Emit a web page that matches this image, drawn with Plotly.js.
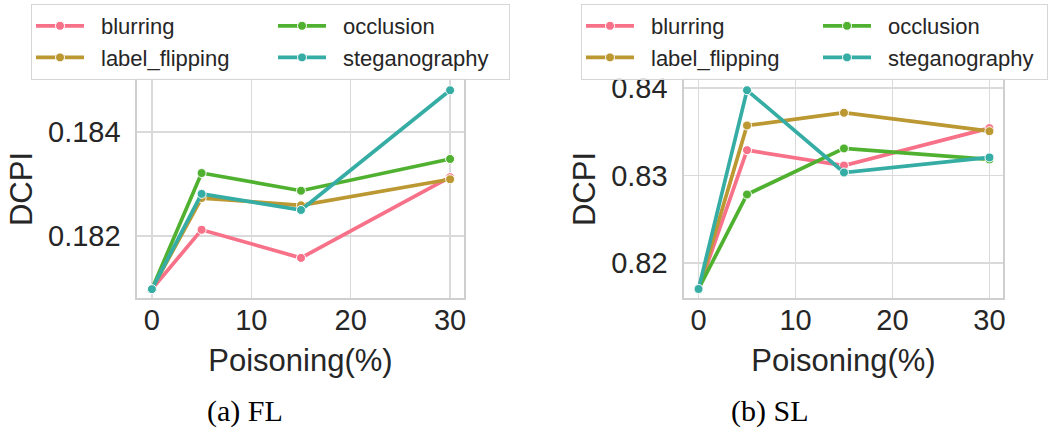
<!DOCTYPE html>
<html>
<head>
<meta charset="utf-8">
<script src="https://cdn.plot.ly/plotly-3.0.1.min.js"></script>
<style>html,body{margin:0;padding:0;background:#fff;}#chart{width:1056px;height:437px;}</style>
</head>
<body>
<div id="chart"></div>
<script>
// ---- data ----
const poisoning = [0, 5, 15, 30];
const seriesNames = ["blurring", "label_flipping", "occlusion", "steganography"];

const fl_blurring       = [0.18098, 0.18212, 0.18158, 0.18313];
const fl_label_flipping = [0.18098, 0.18273, 0.18259, 0.18309];
const fl_occlusion      = [0.18098, 0.18321, 0.18287, 0.18348];
const fl_steganography  = [0.18098, 0.18281, 0.18250, 0.18480];

const sl_blurring       = [0.81703, 0.83289, 0.83114, 0.83541];
const sl_label_flipping = [0.81703, 0.83571, 0.83717, 0.83506];
const sl_occlusion      = [0.81703, 0.82783, 0.83309, 0.83183];
const sl_steganography  = [0.81703, 0.83974, 0.83034, 0.83206];

const xTicks = [0, 10, 20, 30];
const flYTicks = [0.182, 0.184];
const flYTickText = ["0.182", "0.184"];
const slYTicks = [0.82, 0.83, 0.84];
const slYTickText = ["0.82", "0.83", "0.84"];

const captions = ["(a) FL", "(b) SL"];

// ---- styles ----
const colors = ["#f77189", "#bb9832", "#50b131", "#36ada4"];
const groups = ["g1", "g1", "g2", "g2"];
const legendWidthsFL = [167, 167, 161, 161];
const legendWidthsSL = [162, 162, 154, 154];
const textColor = "#262626";
const sansFont = "Liberation Sans, Arial, sans-serif";

const flData = [fl_blurring, fl_label_flipping, fl_occlusion, fl_steganography];
const slData = [sl_blurring, sl_label_flipping, sl_occlusion, sl_steganography];

function makeTrace(i, ys, xa, ya, legendId, lw) {
  return {
    type: "scatter",
    mode: "lines+markers",
    name: seriesNames[i],
    x: poisoning,
    y: ys,
    xaxis: xa,
    yaxis: ya,
    legend: legendId,
    legendgroup: groups[i] + legendId,
    legendwidth: lw[i],
    line: {color: colors[i], width: 3.7},
    marker: {color: colors[i], size: 9, line: {color: "#ffffff", width: 1}},
    hoverinfo: "x+y+name"
  };
}

const traces = [];
for (let i = 0; i < 4; i++) traces.push(makeTrace(i, flData[i], "x", "y", "legend", legendWidthsFL));
for (let i = 0; i < 4; i++) traces.push(makeTrace(i, slData[i], "x2", "y2", "legend2", legendWidthsSL));

const W = 1056, H = 437;
function px(v) { return v / W; }
function py(v) { return 1 - v / H; }

const axisCommon = {
  showgrid: true,
  gridcolor: "#dadada",
  gridwidth: 1.2,
  showline: true,
  linecolor: "#cfcfcf",
  linewidth: 1.6,
  mirror: true,
  zeroline: false,
  ticks: "",
  tickfont: {family: sansFont, size: 29, color: textColor},
  fixedrange: true
};

function xAxis(domain, anchor) {
  return Object.assign({}, axisCommon, {
    domain: domain,
    anchor: anchor,
    range: [-1.5, 31.4],
    tickmode: "array",
    tickvals: xTicks,
    ticktext: xTicks.map(String),
    ticklabelstandoff: -4,
    title: {text: "Poisoning(%)", font: {family: sansFont, size: 31, color: textColor}, standoff: 14}
  });
}
function yAxis(domain, anchor, range, vals, text) {
  return Object.assign({}, axisCommon, {
    domain: domain,
    anchor: anchor,
    range: range,
    tickmode: "array",
    tickvals: vals,
    ticktext: text,
    ticklabelstandoff: 9,
    title: {text: "DCPI", font: {family: sansFont, size: 31, color: textColor}, standoff: 6}
  });
}

const yDomain = [py(298), py(80)];

const legendCommon = {
  orientation: "h",
  traceorder: "grouped",
  tracegroupgap: 0,
  bgcolor: "rgba(255,255,255,0.85)",
  bordercolor: "#d6d6d6",
  borderwidth: 1,
  itemwidth: 60,
  font: {family: sansFont, size: 22, color: textColor},
  xanchor: "left",
  yanchor: "top",
  y: py(4)
};

const layout = {
  width: W,
  height: H,
  margin: {l: 0, r: 0, t: 0, b: 0},
  paper_bgcolor: "#ffffff",
  plot_bgcolor: "#ffffff",
  font: {family: sansFont, color: textColor},
  xaxis: xAxis([px(137), px(464)], "y"),
  yaxis: yAxis(yDomain, "x", [0.18081, 0.184997], flYTicks, flYTickText),
  xaxis2: xAxis([px(684), px(1003)], "y2"),
  yaxis2: yAxis(yDomain, "x2", [0.816, 0.84091], slYTicks, slYTickText),
  legend: Object.assign({}, legendCommon, {x: px(31)}),
  legend2: Object.assign({}, legendCommon, {x: px(581)}),
  annotations: [
    {text: captions[0], xref: "paper", yref: "paper", x: px(245), y: py(411), xanchor: "center", yanchor: "middle",
     showarrow: false, font: {family: "Liberation Serif, Times New Roman, serif", size: 30, color: "#000000"}},
    {text: captions[1], xref: "paper", yref: "paper", x: px(770), y: py(411), xanchor: "center", yanchor: "middle",
     showarrow: false, font: {family: "Liberation Serif, Times New Roman, serif", size: 30, color: "#000000"}}
  ],
  showlegend: true
};

Plotly.newPlot("chart", traces, layout, {displayModeBar: false, staticPlot: true}).then(function (gd) {
  // lengthen legend line symbols to match the seaborn-style legend handles
  gd.querySelectorAll(".legendlines path").forEach(function (p) { p.setAttribute("d", "M5,0h48"); });
  gd.querySelectorAll(".legendpoints path").forEach(function (p) { p.setAttribute("transform", "translate(29,0)"); });
});
</script>
</body>
</html>
